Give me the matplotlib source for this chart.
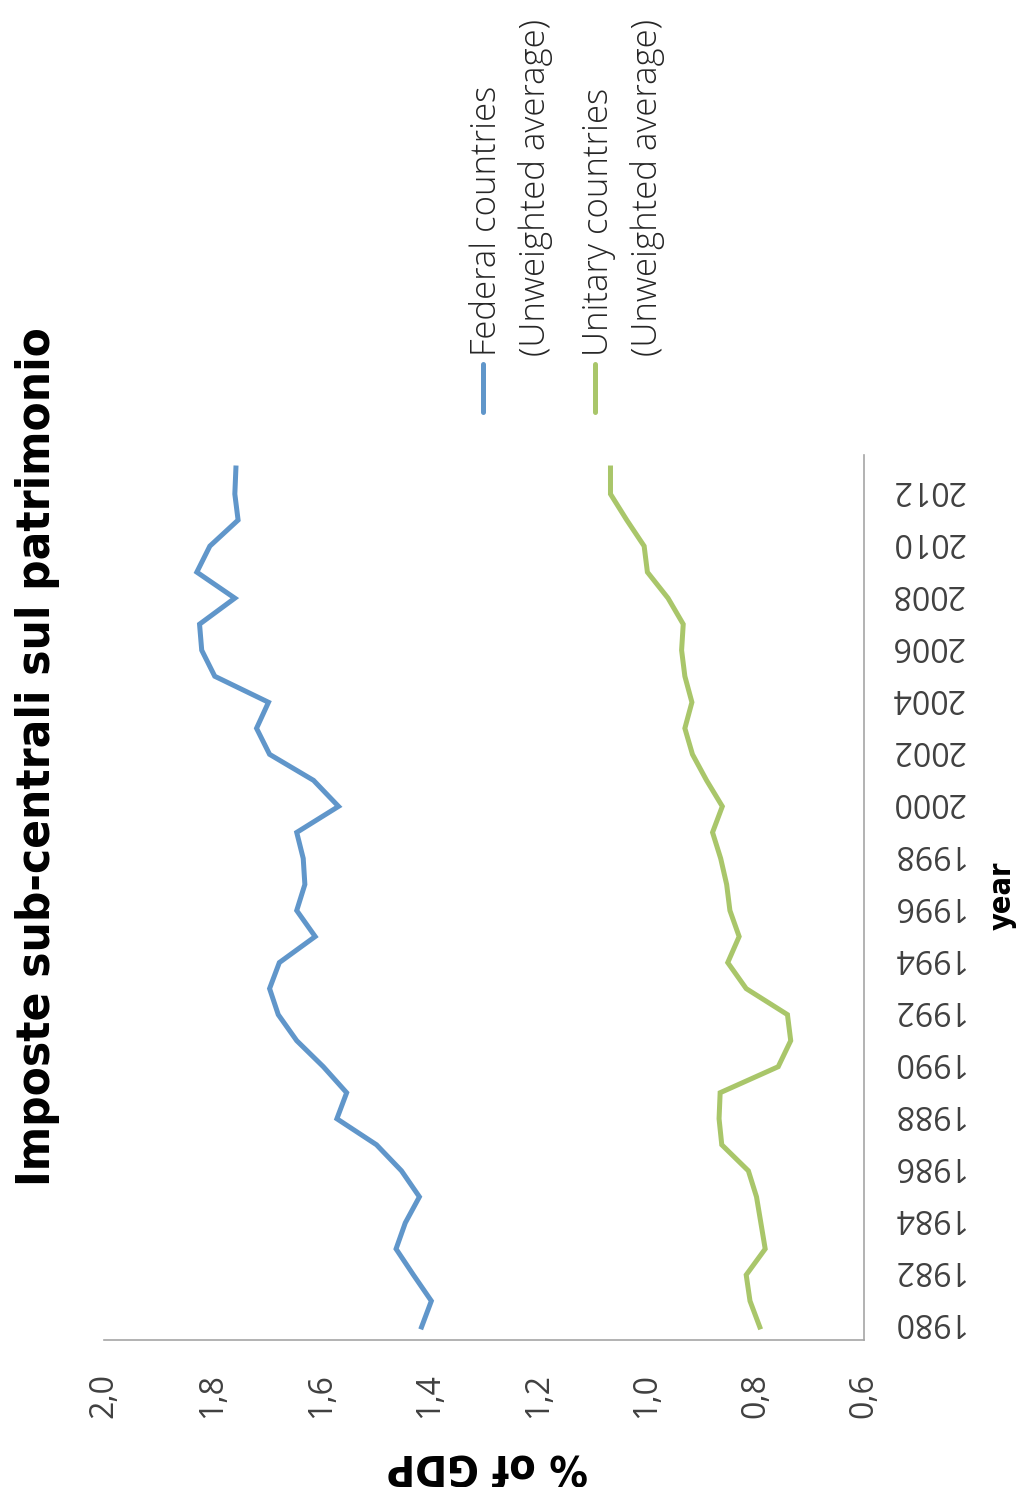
import matplotlib.pyplot as plt
from matplotlib.transforms import ScaledTranslation

# % of GDP, 1980-2013
years = list(range(1980, 2014))
federal = [1.415, 1.397, 1.430, 1.462, 1.445, 1.419, 1.452, 1.498, 1.571, 1.553,
           1.596, 1.645, 1.679, 1.695, 1.677, 1.611, 1.645, 1.630, 1.633, 1.645,
           1.568, 1.614, 1.695, 1.719, 1.697, 1.796, 1.820, 1.824, 1.759, 1.829,
           1.805, 1.753, 1.759, 1.757]
unitary = [0.792, 0.810, 0.817, 0.782, 0.790, 0.798, 0.813, 0.862, 0.867, 0.865,
           0.758, 0.735, 0.741, 0.817, 0.851, 0.830, 0.847, 0.853, 0.864, 0.879,
           0.861, 0.890, 0.916, 0.930, 0.917, 0.930, 0.936, 0.933, 0.961, 0.999,
           1.005, 1.037, 1.067, 1.067]
value_ticks = [2.0, 1.8, 1.6, 1.4, 1.2, 1.0, 0.8, 0.6]
year_ticks = list(range(1980, 2013, 2))

series_names = [("Federal countries", "(Unweighted average)"),
                ("Unitary countries", "(Unweighted average)")]
colors = ["#6096CA", "#A9C66A"]

W, H = 1022, 1487
fig = plt.figure(figsize=(W / 100, H / 100), dpi=100)

# the whole chart is laid out turned on its side: values run across, years run up
ax = fig.add_axes([104 / W, 1 - 1340 / H, 760 / W, 885 / H])
ax.plot(federal, years, color=colors[0], lw=3.6, solid_joinstyle="miter")
ax.plot(unitary, years, color=colors[1], lw=3.6, solid_joinstyle="miter")

ax.set_xlim(2.0, 0.6)
ax.set_ylim(1979.5, 2013.5)

for s in ["top", "left"]:
    ax.spines[s].set_visible(False)
for s in ["bottom", "right"]:
    ax.spines[s].set_color("#A6A6A6")
    ax.spines[s].set_linewidth(1.2)

tick_font = dict(family=["Open Sans", "DejaVu Sans"], size=23)
ax.set_xticks(value_ticks)
ax.set_xticklabels([f"{v:.1f}".replace(".", ",") for v in value_ticks],
                   rotation=90, color="#404040", **tick_font)
ax.tick_params(axis="x", length=0, pad=24)

ax.yaxis.tick_right()
ax.set_yticks(year_ticks)
ax.set_yticklabels([str(y) for y in year_ticks], rotation=180,
                   color="#404040", **tick_font)
ax.tick_params(axis="y", length=0, pad=19)
# upside-down labels: nudge up so the digits sit on the tick
nudge = ScaledTranslation(0, 5 / 100, fig.dpi_scale_trans)
for lbl in ax.get_yticklabels():
    lbl.set_verticalalignment("center")
    lbl.set_transform(lbl.get_transform() + nudge)

bold_narrow = dict(family="DejaVu Sans", fontstretch="condensed",
                   fontweight="bold")
fig.text(38 / W, 1 - 757 / H, "Imposte sub-centrali sul patrimonio",
         rotation=90, ha="center", va="center", fontsize=34, **bold_narrow)
fig.text(1002 / W, 1 - 896 / H, "year", rotation=90, ha="center",
         va="center", fontsize=22, **bold_narrow)
fig.text(487 / W, 1 - 1466 / H, "% of GDP", rotation=180, ha="center",
         va="center", fontsize=31, **bold_narrow)

# legend entries: short vertical key line with the label standing above it
legend_x = [483, 595]
for (line1, line2), c, lx in zip(series_names, colors, legend_x):
    fig.add_artist(plt.Line2D([lx / W, lx / W], [1 - 412 / H, 1 - 364 / H],
                              color=c, lw=3.6, solid_capstyle="round"))
    fig.text((lx + 4) / W, 1 - 356 / H, line1, rotation=90, ha="center",
             va="bottom", fontsize=25, family=["Open Sans", "DejaVu Sans"],
             fontweight="light", color="#262626")
    fig.text((lx + 52) / W, 1 - 356 / H, line2, rotation=90, ha="center",
             va="bottom", fontsize=25, family=["Open Sans", "DejaVu Sans"],
             fontweight="light", color="#262626")

fig.savefig("out.png", dpi=100, facecolor="white")
